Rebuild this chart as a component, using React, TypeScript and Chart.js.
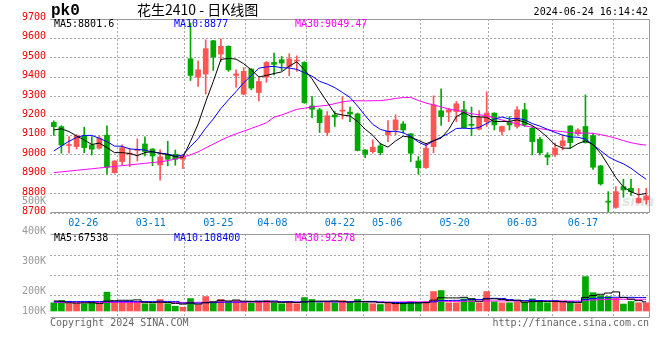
import { useEffect, useRef } from 'react';
import { Chart, registerables } from 'chart.js';
Chart.register(...registerables);

const DATES = [
  '02-26','02-27','02-28','02-29','03-01',
  '03-04','03-05','03-06','03-07','03-08',
  '03-11','03-12','03-13','03-14','03-15',
  '03-18','03-19','03-20','03-21','03-22',
  '03-25','03-26','03-27','03-28','03-29',
  '04-01','04-02','04-03',
  '04-08','04-09','04-10','04-11','04-12',
  '04-15','04-16','04-17','04-18','04-19',
  '04-22','04-23','04-24','04-25','04-26',
  '04-29','04-30',
  '05-06','05-07','05-08','05-09','05-10',
  '05-13','05-14','05-15','05-16','05-17',
  '05-20','05-21','05-22','05-23','05-24',
  '05-27','05-28','05-29','05-30','05-31',
  '06-03','06-04','06-05','06-06','06-07',
  '06-11','06-12','06-13','06-14',
  '06-17','06-18','06-19','06-20','06-21',
];

const OPEN = [
  9167,9145,9048,9042,9097,9051,9034,9101,8908,8965,
  9003,9022,9056,9030,8948,8998,9003,8977,9495,9400,
  9416,9588,9519,9559,9409,9313,9442,9321,9400,9476,
  9490,9455,9483,9476,9252,9232,9115,9205,9225,9220,
  9211,9025,9016,9046,9103,9128,9159,9108,8968,8934,
  9042,9227,9220,9223,9232,9157,9132,9171,9215,9120,
  9171,9146,9232,9137,9080,8999,9000,9046,9149,9108,
  9146,9098,8943,8760,8729,8836,8827,8753,8767,
];
const HIGH = [
  9175,9150,9094,9105,9142,9094,9097,9149,8970,9051,
  9034,9082,9092,9032,9025,9070,9025,8998,9680,9485,
  9593,9590,9598,9562,9438,9450,9444,9395,9481,9524,
  9507,9521,9510,9480,9300,9240,9223,9223,9300,9246,
  9215,9027,9077,9060,9177,9206,9171,9110,8991,9060,
  9304,9340,9240,9275,9275,9246,9228,9325,9217,9148,
  9197,9249,9266,9146,9090,9011,9060,9103,9150,9135,
  9309,9112,8945,8810,8836,8874,8874,8827,8827,
];
const LOW = [
  9100,9008,9010,9030,9011,8999,9029,8900,8905,8948,
  8939,8968,8994,8944,8869,8943,8946,8929,9383,9352,
  9313,9435,9481,9430,9349,9309,9335,9278,9373,9412,
  9433,9407,9430,9265,9192,9115,9098,9146,9185,9171,
  9020,8985,9008,9000,9068,9103,9111,8965,8900,8930,
  9011,9151,9171,9171,9137,9098,9128,9146,9128,9103,
  9128,9137,9146,9000,9000,8948,8991,9025,9034,9100,
  9060,8925,8844,8707,8724,8781,8790,8750,8746,
];
const CLOSE = [
  9145,9050,9052,9098,9037,9029,9086,8936,8968,9037,
  9007,9028,9017,8994,8989,8977,8977,8994,9409,9438,
  9547,9504,9559,9438,9417,9430,9344,9378,9476,9466,
  9473,9494,9487,9269,9235,9166,9201,9195,9229,9210,
  9022,9003,9039,9011,9123,9180,9128,9008,8934,9034,
  9258,9197,9232,9263,9140,9152,9193,9215,9154,9146,
  9154,9232,9154,9068,9011,8988,9034,9072,9063,9128,
  9063,8936,8850,8756,8810,8819,8810,8776,8788,
];
const VOLUME = [
  67000,86000,59000,59000,59000,75000,59000,154000,75000,75000,
  75000,75000,59000,59000,94000,59000,39000,31000,102000,48000,
  118000,75000,94000,75000,86000,75000,67000,75000,86000,67000,
  59000,75000,59000,110000,94000,67000,75000,67000,86000,67000,
  94000,67000,59000,53000,67000,59000,67000,75000,67000,75000,
  159000,167000,67000,67000,99000,99000,67000,159000,75000,67000,
  67000,75000,75000,99000,75000,67000,75000,75000,67000,59000,
  281000,150000,126000,118000,104000,57000,78000,67000,67000,
];

// moving-average values for the days whose window starts before the chart
const MA5_HEAD = [9128, 9134, 9120, 9097];
const MA10_HEAD = [9020, 9045, 9070, 9090, 9100, 9100, 9085, 9068, 9045];
const MA30_HEAD = [
  8908, 8912, 8916, 8920, 8924, 8928, 8932, 8936, 8940, 8944,
  8948, 8952, 8956, 8960, 8964, 8970, 8978, 8988, 9000, 9015,
  9035, 9055, 9075, 9093, 9108, 9122, 9136, 9150, 9165,
];
const VOL_MA5_HEAD = [82000, 80000, 66000, 64000];
const VOL_MA10_HEAD = [76000, 76000, 77000, 77000, 78000, 78000, 77000, 76000, 76000];
const VOL_MA30_HEAD = [
  70000, 70000, 70000, 70000, 70000, 70000, 70000, 70000, 70000, 70000,
  70000, 70000, 70000, 70000, 70000, 70000, 70000, 70000, 71000, 71000,
  71000, 72000, 72000, 72000, 72000, 73000, 73000, 73000, 73000,
];

const PRICE_MIN = 8700;
const PRICE_MAX = 9700;
const PRICE_STEP = 100;
const DATE_TICKS = ['02-26', '03-11', '03-25', '04-08', '04-22', '05-06', '05-20', '06-03', '06-17'];
const VOL_TICKS = ['500K', '400K', '300K', '200K', '100K'];
const PRICE_LEGEND = ['MA5:8801.6', 'MA10:8877', 'MA30:9049.47'];
const VOL_LEGEND = ['MA5:67538', 'MA10:108400', 'MA30:92578'];
const SYMBOL = 'pk0';
const TITLE = '花生2410 - 日K线图';
const STAMP = '2024-06-24 16:14:42';
const COPYRIGHT = 'Copyright 2024 SINA.COM';
const SITE = 'http://finance.sina.com.cn';

function movingAvg(values: number[], n: number, head: number[]) {
  return values.map((_, i) => {
    if (i < n - 1) return head[i];
    let s = 0;
    for (let k = i - n + 1; k <= i; k++) s += values[k];
    return s / n;
  });
}

const MONO = 'DejaVu Sans Mono';
const RED = '#ff5555';
const GREEN = '#00a800';
const LINE_COLORS = ['#000000', '#0000ff', '#ff00ff'];
const GRID = '#a8a8a8';

function frame(ctx: CanvasRenderingContext2D, a: any) {
  ctx.save();
  ctx.strokeStyle = '#9a9a9a';
  ctx.lineWidth = 1;
  ctx.beginPath();
  ctx.moveTo(Math.round(a.left) + 0.5, Math.round(a.top) + 0.5);
  ctx.lineTo(Math.round(a.right) - 0.5, Math.round(a.top) + 0.5);
  ctx.lineTo(Math.round(a.right) - 0.5, Math.round(a.bottom) - 0.5);
  ctx.lineTo(Math.round(a.left) + 0.5, Math.round(a.bottom) - 0.5);
  ctx.stroke();
  ctx.restore();
}

export default function App() {
  const priceRef = useRef<HTMLCanvasElement>(null);
  const volRef = useRef<HTMLCanvasElement>(null);

  useEffect(() => {
    const n = DATES.length;
    const colors = CLOSE.map((c, i) => (c >= OPEN[i] ? RED : GREEN));
    const ma5 = movingAvg(CLOSE, 5, MA5_HEAD);
    const ma10 = movingAvg(CLOSE, 10, MA10_HEAD);
    const ma30 = movingAvg(CLOSE, 30, MA30_HEAD);
    const vma5 = movingAvg(VOLUME, 5, VOL_MA5_HEAD);
    const vma10 = movingAvg(VOLUME, 10, VOL_MA10_HEAD);
    const vma30 = movingAvg(VOLUME, 30, VOL_MA30_HEAD);

    const dateAxis = (showLabels: boolean, height: number) => ({
      type: 'linear' as const,
      position: 'bottom' as const,
      min: -0.5,
      max: n - 0.5,
      afterBuildTicks: (s: any) => {
        s.ticks = DATE_TICKS.map((d) => ({ value: DATES.indexOf(d) - 0.5 }));
      },
      afterFit: (s: any) => {
        s.height = height;
      },
      ticks: {
        display: showLabels,
        autoSkip: false,
        maxRotation: 0,
        padding: 4,
        color: '#0077cc',
        font: { family: MONO, size: 10 },
        callback: (v: any) => DATES[Math.round(Number(v) + 0.5)],
      },
      grid: { color: GRID, drawTicks: false, lineWidth: 1 },
      border: { display: false, dash: [2, 2] },
    });

    const textPlugin = {
      id: 'texts',
      beforeDatasetsDraw(chart: any) {
        const ctx = chart.ctx as CanvasRenderingContext2D;
        ctx.save();
        ctx.font = 'italic bold 14px "DejaVu Sans"';
        ctx.fillStyle = 'rgba(215,215,215,0.7)';
        ctx.textBaseline = 'alphabetic';
        ctx.fillText('sina', 622, 206);
        ctx.restore();
      },
      afterDraw(chart: any) {
        const ctx = chart.ctx as CanvasRenderingContext2D;
        const a = chart.chartArea;
        frame(ctx, a);
        ctx.save();
        ctx.textBaseline = 'middle';
        ctx.textAlign = 'left';
        ctx.fillStyle = '#000';
        ctx.font = 'bold 16px "Liberation Mono"';
        ctx.fillText(SYMBOL, 51, 11);
        ctx.font = '14px "Noto Sans CJK SC"';
        ctx.fillText(TITLE, 137, 10);
        ctx.font = `10px "${MONO}"`;
        ctx.textAlign = 'right';
        ctx.fillText(STAMP, 648, 12);
        ctx.textAlign = 'left';
        const xs = [54, 174, 295];
        PRICE_LEGEND.forEach((t, i) => {
          ctx.fillStyle = LINE_COLORS[i];
          ctx.fillText(t, xs[i], 24);
        });
        ctx.restore();
      },
    };

    const price = new Chart(priceRef.current!, {
      type: 'bar',
      data: {
        labels: DATES,
        datasets: [
          { type: 'line', data: ma5, borderColor: LINE_COLORS[0], borderWidth: 1, pointRadius: 0, order: 0 } as any,
          { type: 'line', data: ma10, borderColor: LINE_COLORS[1], borderWidth: 1, pointRadius: 0, order: 1 } as any,
          { type: 'line', data: ma30, borderColor: LINE_COLORS[2], borderWidth: 1, pointRadius: 0, order: 2 } as any,
          {
            type: 'bar',
            data: OPEN.map((o, i) => [Math.min(o, CLOSE[i]), Math.max(o, CLOSE[i])]),
            backgroundColor: colors,
            barThickness: 5,
            minBarLength: 1,
            grouped: false,
            order: 3,
          } as any,
          {
            type: 'bar',
            data: LOW.map((l, i) => [l, HIGH[i]]),
            backgroundColor: colors,
            barThickness: 1,
            grouped: false,
            order: 4,
          } as any,
        ],
      },
      options: {
        animation: false,
        responsive: false,
        devicePixelRatio: 1,
        layout: { padding: { left: 0, right: 10, top: 19, bottom: 128 } },
        plugins: { legend: { display: false }, tooltip: { enabled: false } },
        scales: {
          x: { type: 'category', offset: true, display: false },
          xg: dateAxis(true, 19) as any,
          y: {
            min: PRICE_MIN,
            max: PRICE_MAX,
            afterFit: (s: any) => {
              s.width = 50;
            },
            ticks: {
              stepSize: PRICE_STEP,
              color: '#ee0000',
              padding: 4,
              labelOffset: -1.5,
              font: { family: MONO, size: 10 },
              callback: (v: any) => String(v),
            },
            grid: { color: GRID, drawTicks: false },
            border: { display: false, dash: [2, 2] },
          },
        },
      },
      plugins: [textPlugin],
    });

    const volText = {
      id: 'voltexts',
      afterDraw(chart: any) {
        const ctx = chart.ctx as CanvasRenderingContext2D;
        const a = chart.chartArea;
        frame(ctx, a);
        ctx.save();
        ctx.textBaseline = 'middle';
        ctx.font = `10px "${MONO}"`;
        ctx.textAlign = 'right';
        ctx.fillStyle = '#999999';
        const ys = [201, 231, 261, 291, 311];
        VOL_TICKS.forEach((t, i) => ctx.fillText(t, 46, ys[i]));
        ctx.textAlign = 'left';
        const xs = [54, 174, 295];
        VOL_LEGEND.forEach((t, i) => {
          ctx.fillStyle = LINE_COLORS[i];
          ctx.fillText(t, xs[i], 238);
        });
        ctx.fillStyle = '#666666';
        ctx.fillText(COPYRIGHT, 50, 323);
        ctx.textAlign = 'right';
        ctx.fillText(SITE, 649, 323);
        ctx.restore();
      },
    };

    const PX = 8170;
    const vol = new Chart(volRef.current!, {
      type: 'bar',
      data: {
        labels: DATES,
        datasets: [
          { type: 'line', data: vma5, borderColor: LINE_COLORS[0], borderWidth: 1, pointRadius: 0, stepped: 'middle', order: 0 } as any,
          { type: 'line', data: vma10, borderColor: LINE_COLORS[1], borderWidth: 1, pointRadius: 0, stepped: 'middle', order: 1 } as any,
          { type: 'line', data: vma30, borderColor: LINE_COLORS[2], borderWidth: 1, pointRadius: 0, stepped: 'middle', order: 2 } as any,
          { type: 'bar', data: VOLUME, backgroundColor: colors, barThickness: 6, grouped: false, order: 3 } as any,
        ],
      },
      options: {
        animation: false,
        responsive: false,
        devicePixelRatio: 1,
        layout: { padding: { left: 0, right: 10, top: 234, bottom: 42 } },
        plugins: { legend: { display: false }, tooltip: { enabled: false } },
        scales: {
          x: { type: 'category', offset: true, display: false },
          xg: dateAxis(false, 0) as any,
          y: {
            min: -7 * PX,
            max: 77 * PX,
            afterFit: (s: any) => {
              s.width = 50;
            },
            afterBuildTicks: (s: any) => {
              s.ticks = [15.5, 35.5, 55.5].map((p) => ({ value: p * PX }));
            },
            ticks: { display: false },
            grid: { color: GRID, drawTicks: false },
            border: { display: false, dash: [2, 2] },
          },
        },
      },
      plugins: [volText],
    });

    return () => {
      price.destroy();
      vol.destroy();
    };
  }, []);

  return (
    <div style={{ position: 'fixed', left: 0, top: 0, width: 660, height: 360, background: '#ffffff' }}>
      <canvas ref={priceRef} width={660} height={360} style={{ position: 'absolute', left: 0, top: 0 }} />
      <canvas ref={volRef} width={660} height={360} style={{ position: 'absolute', left: 0, top: 0 }} />
    </div>
  );
}
